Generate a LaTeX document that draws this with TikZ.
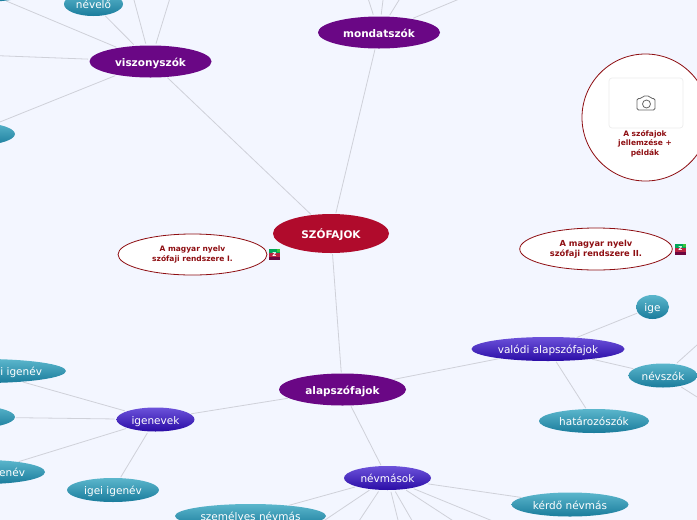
\documentclass[tikz,border=0pt]{standalone}
\usepackage{fontspec}
\setmainfont{DejaVu Sans}
\usetikzlibrary{shapes.geometric}
\definecolor{bgc}{HTML}{F3F6FF}
\definecolor{linec}{HTML}{CFD1D9}
\definecolor{darkred}{HTML}{8E0E12}
\definecolor{VioTop}{HTML}{6C52DA}
\definecolor{VioMid}{HTML}{4020C6}
\definecolor{VioBot}{HTML}{2A0CA6}
\definecolor{TealTop}{HTML}{5BB6CC}
\definecolor{TealMid}{HTML}{2E97B2}
\definecolor{TealBot}{HTML}{1A7C9C}
\definecolor{Purp}{HTML}{6A0785}
\definecolor{Crim}{HTML}{B00B2C}
\tikzset{
  x=1pt,y=-1pt,
  oval/.style={ellipse,inner sep=0pt,outer sep=0pt,text=white,align=center,text height=10.5pt,text depth=1.5pt},
  mainnode/.style={oval,fill=#1,font=\bfseries\fontsize{10.5}{12}\selectfont},
  violetnode/.style={oval,minimum height=24pt,font=\fontsize{10.5}{12}\selectfont,
     top color=VioTop,middle color=VioMid,bottom color=VioBot},
  tealnode/.style={oval,minimum height=24pt,font=\fontsize{10.5}{12}\selectfont,
     top color=TealTop,middle color=TealMid,bottom color=TealBot},
  notenode/.style={ellipse,inner sep=0pt,outer sep=0pt,align=center,fill=white,draw=darkred,line width=0.8pt,text=darkred,font=\bfseries\fontsize{7.5}{9.5}\selectfont},
  link/.style={draw=linec,line width=0.8pt},
  plain/.style={inner sep=0pt,outer sep=0pt,text=white,text height=10.5pt,text depth=1.5pt,font=\fontsize{10.5}{12}\selectfont},
  zicon/.style={inner sep=0pt,outer sep=0pt,text=white,font=\bfseries\fontsize{7}{7}\selectfont}
}
\begin{document}
\begin{tikzpicture}
\useasboundingbox (0,0) rectangle (697,520);
\clip (0,0) rectangle (697,520);
\fill[bgc] (0,0) rectangle (697,520);
% nodes
\node[mainnode=Crim,minimum width=116pt,minimum height=39pt] (root) at (331,233.5) {SZÓFAJOK};
\node[mainnode=Purp,minimum width=122pt,minimum height=32pt] (visz) at (150.5,61.5) {viszonyszók};
\node[mainnode=Purp,minimum width=122pt,minimum height=32pt] (mond) at (379,32.5) {mondatszók};
\node[mainnode=Purp,minimum width=127pt,minimum height=32pt] (alap) at (342.5,389.5) {alapszófajok};
\node[violetnode,minimum width=153pt] (valodi) at (548,349) {valódi alapszófajok};
\node[violetnode,minimum width=78pt] (igenevek) at (155.5,419.5) {igenevek};
\node[violetnode,minimum width=87pt] (nevmasok) at (387.5,478) {névmások};
\node[tealnode,minimum width=33pt] (ige) at (652.5,307) {ige};
\node[tealnode,minimum width=69pt] (nevszok) at (663,375.5) {névszók};
\node[tealnode,minimum width=110pt] (hataroz) at (594,421) {határozószók};
\node[tealnode,minimum width=92pt] (igei) at (113,490) {igei igenév};
\node[tealnode,minimum width=117pt] (kerdo) at (570,504.5) {kérdő névmás};
\node[tealnode,minimum width=151pt] (szem) at (250.5,516) {személyes névmás};
\node[tealnode,minimum width=59pt] (nevelo) at (93.5,4) {névelő};
\node[tealnode,minimum width=110pt] (tl) at (-20,-10) {};
\node[tealnode,minimum width=90pt] (ll) at (-30,134) {};
\node[tealnode,minimum width=164pt] (igA) at (-16,371) {};
\node[tealnode,minimum width=100pt] (igB) at (-35,417) {};
\node[tealnode,minimum width=120pt] (igC) at (-15,472) {};
\node[plain,anchor=east] (igAt) at (42,371) {i igenév};
\node[plain,anchor=east] (igCt) at (25,472) {enév};
% off-canvas ends
\coordinate (v1) at (130,-15);
\coordinate (v2) at (174,-15);
\coordinate (v3) at (-20,55);
\coordinate (m1) at (366,-8);
\coordinate (m2) at (384,-8);
\coordinate (m3) at (404,-8);
\coordinate (m4) at (476,-8);
\coordinate (n1) at (697,345);
\coordinate (n2) at (705,402);
\coordinate (p1) at (322,522);
\coordinate (p2) at (357,524);
\coordinate (p3) at (399,524);
\coordinate (p4) at (414,524);
\coordinate (p5) at (458,524);
\coordinate (p6) at (500,524);
% connectors
\foreach \a/\b/\sa/\sb in {
 root/visz/1/1, root/mond/1/1, root/alap/1/1,
 visz/nevelo/2/1, visz/tl/2/1, visz/v1/2/0, visz/v2/2/0, visz/v3/2/0, visz/ll/2/1,
 mond/m1/2/0, mond/m2/2/0, mond/m3/2/0, mond/m4/2/0,
 alap/valodi/1/1, alap/igenevek/1/1, alap/nevmasok/1/1,
 valodi/ige/1/1, valodi/nevszok/1/1, valodi/hataroz/1/1,
 nevszok/n1/2/0, nevszok/n2/2/0,
 igenevek/igA/2/1, igenevek/igB/2/1, igenevek/igC/2/1, igenevek/igei/2/1,
 nevmasok/kerdo/2/1, nevmasok/szem/2/1, nevmasok/p1/2/0, nevmasok/p2/2/0, nevmasok/p3/2/0, nevmasok/p4/2/0, nevmasok/p5/2/0, nevmasok/p6/2/0}
 {\draw[link,shorten <=\sa pt,shorten >=\sb pt] (\a) -- (\b);}
% image circle
\node[circle,fill=white,draw=darkred,line width=0.8pt,minimum size=127pt,inner sep=0pt] (pic) at (645.5,117.5) {};
\node[rectangle,rounded corners=3pt,fill=white,draw=black!7,line width=0.7pt,minimum width=74pt,minimum height=50pt,inner sep=0pt] (frame) at (646,103) {};
\begin{scope}[shift={(646,103)},draw=black!60,line width=0.8pt,line join=round]
 \draw[rounded corners=1.5pt] (-9,-4.5) -- (-4.5,-4.5) -- (-3,-7) -- (3.5,-7) -- (5,-4.5) -- (9,-4.5) -- (9,7) -- (-9,7) -- cycle;
 \draw (0.5,1) circle (4pt);
\end{scope}
\node[inner sep=0pt,align=center,text=darkred,font=\bfseries\fontsize{7.5}{9.5}\selectfont] (pictext) at (645,143.5) {A szófajok\\jellemzése +\\példák};
% note ovals
\node[notenode,minimum width=149pt,minimum height=41pt] (noteA) at (192.5,254.5) {A magyar nyelv\\szófaji rendszere I.};
\node[notenode,minimum width=152.5pt,minimum height=42pt,font=\bfseries\fontsize{8.3}{9.5}\selectfont] (noteB) at (596,249) {A magyar nyelv\\szófaji rendszere II.};
% z icons
\foreach \n/\px/\py in {zA/269/249,zB/675/243.5}{
 \fill[teal!70!green] (\px,\py) rectangle ++(11,4);
 \fill[green!55!gray] (\px+7.5,\py) rectangle ++(3.5,3);
 \fill[Crim!90!white] (\px,\py+4) rectangle ++(11,4);
 \fill[Purp!45!Crim!75!black] (\px,\py+8) rectangle ++(11,3);
 \node[zicon] (\n) at (\px+5.5,\py+5.5) {z};
}
\end{tikzpicture}
\end{document}
